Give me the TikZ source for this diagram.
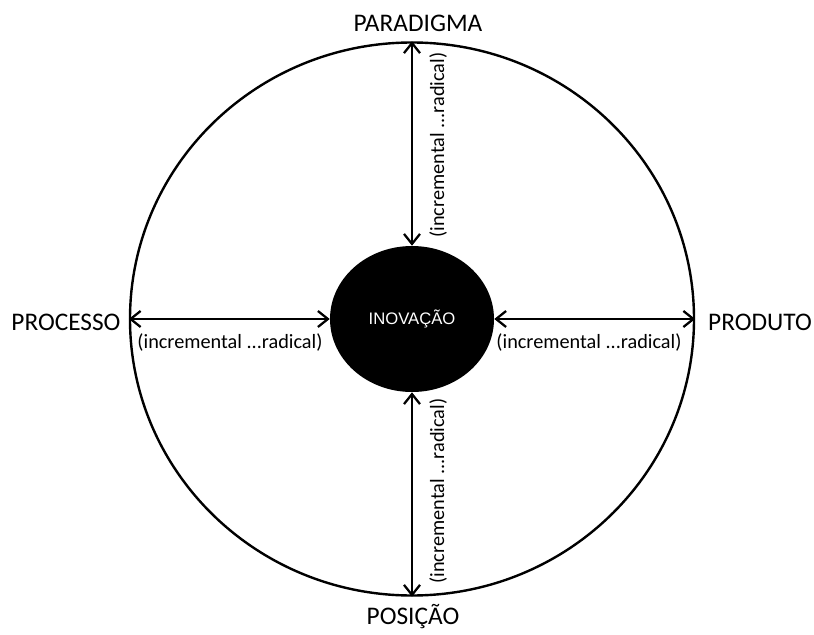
\documentclass[tikz,border=0pt]{standalone}
\usepackage{fontspec}
\setmainfont{Carlito}
\newfontfamily\arialfont{Liberation Sans}
\usetikzlibrary{arrows.meta, shapes.geometric}

\tikzset{
  ring/.style={draw, ellipse, line width=1.8pt, inner sep=0pt,
    minimum width=423pt, minimum height=414.75pt},
  core/.style={ellipse, fill=black, text=white, inner sep=0pt,
    minimum width=123pt, minimum height=109.5pt,
    font=\fontsize{12.5}{15}\selectfont},
  link/.style={<->, line width=1.7pt},
  dim/.style={font=\fontsize{19}{22}\selectfont},
  tag/.style={font=\fontsize{15.2}{18}\selectfont, inner sep=0pt}
}

\begin{document}
\begin{tikzpicture}[x=0.75pt, y=-0.75pt, >={Straight Barb[length=7.5pt, width=12pt]}]
  \useasboundingbox (0,0) rectangle (814,635);

  % circle and centre
  \node[ring] (R) at (412,319) {};
  \node[core] (I) at (412,319) {\arialfont INOVAÇÃO};

  % dimensions
  \node[dim] (par) at (418,23) {PARADIGMA};
  \node[dim] (pos) at (413,617) {POSIÇÃO};
  \node[dim] (pro) at (66,322) {PROCESSO};
  \node[dim] (prd) at (760,322) {PRODUTO};

  % arrows
  \draw[link] (R.north) -- (I.north);
  \draw[link] (R.south) -- (I.south);
  \draw[link] (R.west) -- (I.west);
  \draw[link] (R.east) -- (I.east);

  % scale labels
  \node[tag, rotate=90] (tN) at (438,145) {(incremental ...radical)};
  \node[tag, rotate=90] (tS) at (438,491) {(incremental ...radical)};
  \node[tag] (tW) at (230,342) {(incremental ...radical)};
  \node[tag] (tE) at (589,342) {(incremental ...radical)};
\end{tikzpicture}
\end{document}
